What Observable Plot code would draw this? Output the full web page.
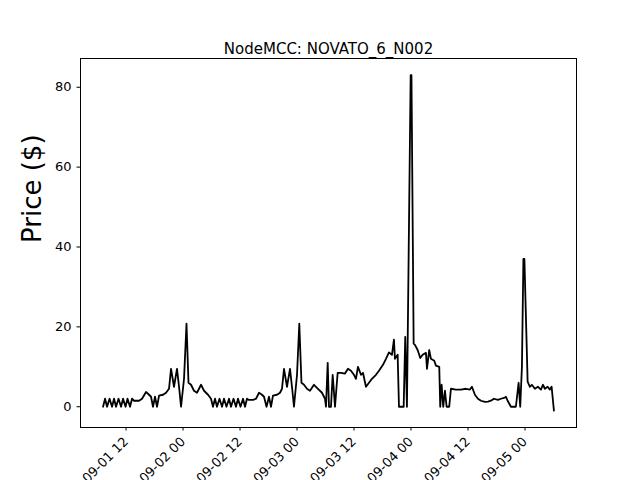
<!DOCTYPE html>
<html>
<head>
<meta charset="utf-8">
<script src="https://cdn.jsdelivr.net/npm/d3@7"></script>
<script src="https://cdn.jsdelivr.net/npm/@observablehq/plot@0.6"></script>
<style>
  body { margin: 0; background: white; }
</style>
</head>
<body>
<div id="chart"></div>
<script>
// hours since 09-01 00:00 and price ($)
const hours = [7.16,7.58,8.0,8.53,9.05,9.47,9.89,10.42,10.95,11.37,11.89,12.31,12.84,13.26,13.68,14.74,15.37,16.21,16.84,17.26,17.68,18.1,18.52,18.95,19.79,20.42,21.05,21.47,22.1,22.73,23.16,23.58,24.21,24.73,25.15,25.68,26.31,26.94,27.79,28.42,29.26,29.89,30.31,
  30.73,31.15,31.68,32.21,32.63,33.15,33.68,34.1,34.63,35.15,35.57,36.1,36.63,37.05,37.47,
  37.89,38.73,39.37,40.0,40.63,41.05,41.58,42.1,42.52,42.94,43.79,44.42,44.84,45.26,45.89,46.52,46.94,47.36,48.0,48.48,48.94,49.47,50.1,50.73,51.57,52.41,53.26,53.89,54.1,54.46,54.73,55.15,55.51,56.0,56.56,57.26,58.1,58.73,59.36,59.99,60.41,60.83,61.47,61.89,62.52,63.15,63.78,64.62,65.26,66.1,66.73,67.36,67.99,68.41,68.62,69.19,69.47,
  70.46,70.79,71.15,71.93,72.1,72.56,72.83,73.4,73.95,74.45,75.15,75.36,75.84,76.2,76.9,77.25,77.95,78.16,78.45,78.79,79.15,79.5,80.05,80.41,81.46,82.52,83.57,84.41,84.83,85.46,86.1,86.73,87.57,88.2,88.83,89.46,90.3,90.94,91.78,91.99,92.35,93.04,94.09,94.66,95.0,95.36,95.67,95.88,96.56,97.04,97.46,98.09,98.72,99.36,99.78,100.2,100.77,101.25,101.61,102.1];
const prices = [0,2,0,2,0,2,0,2,0,2,0,2,0,2,1.5,1.5,2,3.7,3,2.5,0,2.5,0,2.8,3,3.5,4.5,9.5,5,9.5,5,0,7,20.8,6,5.5,4,3.5,5.5,4,3,2,0,
  2,0,2,0,2,0,2,0,2,0,2,0,2,0,2,
  1.7,1.7,2,3.5,3,2.5,0,2.5,0,2.8,3,3.5,4.5,9.5,5,9.5,5,0,8,20.8,6,5.5,4.5,4,5.5,4.5,3.5,2,0,11,0,0,8,0,8.5,8.5,8.3,9.5,9,8,7,10,8,8.5,5,6,7,8,9,10.5,12,13.6,13,16.8,12,13,0,
  0,17.5,0,83,83,15.8,15.5,14.2,12.2,13,13.5,9.5,14.2,12,11.5,10.3,10,0,5.5,0,4,0,0,4.5,4.3,4.3,4.5,4.3,5,3,2,1.5,1.2,1.3,1.5,2,1.7,2,2.3,2.5,1.5,0,0,6,0,10,37,37,6.3,5,5.5,4.5,5,4.3,5.5,4.5,5,4.3,5,-1];
const title = "NodeMCC: NOVATO_6_N002";
const yTicks = [0, 20, 40, 60, 80];

const base = new Date(2020, 8, 1, 0, 0);
const data = hours.map((h, i) => ({ t: new Date(+base + h * 3600e3), price: prices[i] }));
const at = h => new Date(+base + h * 3600e3);
const xTicks = d3.range(12, 97, 12).map(at);

const chart = Plot.plot({
  width: 640,
  height: 480,
  marginLeft: 80,
  marginRight: 64,
  marginTop: 58,
  marginBottom: 53,
  style: { fontFamily: "DejaVu Sans", fontSize: "13px", color: "black", background: "white" },
  x: {
    type: "time",
    domain: [at(2.41), at(106.85)],
    ticks: xTicks,
    tickFormat: d3.timeFormat("%m-%d %H"),
    tickRotate: -45,
    tickSize: 3.5,
    label: null
  },
  y: {
    domain: [-5.2, 87.2],
    ticks: yTicks,
    tickSize: 3.5,
    label: null
  },
  marks: [
    Plot.frame({ stroke: "black" }),
    Plot.line(data, { x: "t", y: "price", stroke: "black", strokeWidth: 1.8 }),
    Plot.text([title], { frameAnchor: "top", text: d => d, dy: -15, fontSize: 15 }),
    Plot.text(["Price ($)"], { frameAnchor: "left", text: d => d, rotate: -90, dx: -48, fontSize: 26 })
  ]
});
document.getElementById("chart").append(chart);
</script>
</body>
</html>
